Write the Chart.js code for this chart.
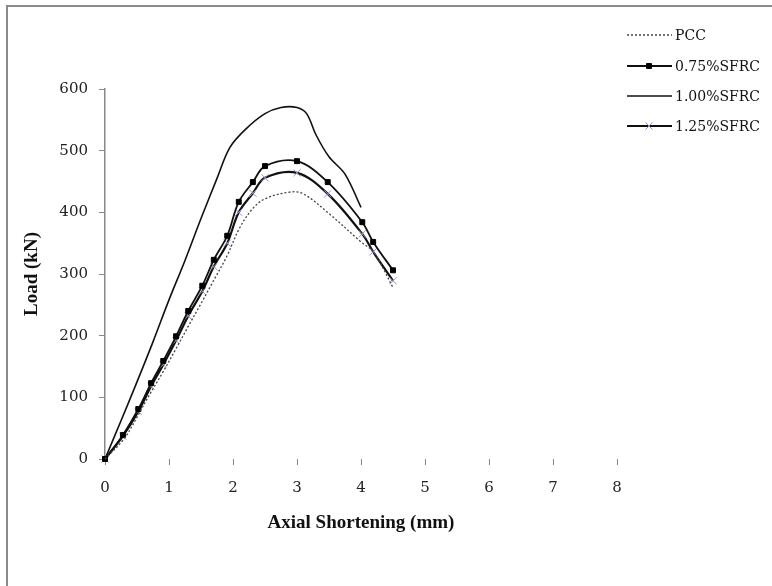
<!DOCTYPE html>
<html>
<head>
<meta charset="utf-8">
<script src="https://cdn.jsdelivr.net/npm/chart.js@4/dist/chart.umd.min.js"></script>
<style>
  html, body { margin: 0; padding: 0; background: #fff; }
</style>
</head>
<body>
<canvas id="chart" width="772" height="586"></canvas>
<script>
// Axis ticks
const xTicks = [0, 1, 2, 3, 4, 5, 6, 7, 8];
const yTicks = [0, 100, 200, 300, 400, 500, 600];

// Series (axial shortening mm, load kN)
const pccX = [0, 0.3, 0.5, 0.7, 0.9, 1.1, 1.3, 1.5, 1.7, 1.9, 2.1, 2.3, 2.5, 2.9, 3.1, 3.5, 4.0, 4.2, 4.5];
const pccY = [0, 33, 68, 105, 140, 177, 215, 252, 290, 328, 374, 405, 422, 433, 430, 398, 352, 335, 278];

const sfrc075X = [0, 0.28, 0.52, 0.72, 0.91, 1.11, 1.3, 1.52, 1.7, 1.91, 2.09, 2.31, 2.5, 3.0, 3.48, 4.02, 4.19, 4.5];
const sfrc075Y = [0, 39, 81, 123, 159, 199, 240, 281, 323, 362, 417, 449, 475, 483, 449, 384, 352, 306];

const sfrc100X = [0, 0.25, 0.5, 0.75, 1.0, 1.25, 1.5, 1.75, 1.95, 2.2, 2.5, 2.75, 3.0, 3.15, 3.3, 3.5, 3.75, 4.0];
const sfrc100Y = [0, 62, 125, 190, 258, 322, 390, 455, 505, 535, 560, 570, 570, 560, 525, 490, 462, 408];

const sfrc125X = [0, 0.28, 0.52, 0.72, 0.91, 1.11, 1.3, 1.52, 1.7, 1.91, 2.09, 2.31, 2.5, 3.0, 3.48, 4.02, 4.19, 4.5];
const sfrc125Y = [0, 37, 77, 118, 153, 192, 232, 272, 312, 350, 400, 431, 456, 464, 430, 365, 336, 289];

const labels = ["PCC", "0.75%SFRC", "1.00%SFRC", "1.25%SFRC"];

function pts(xs, ys) {
  return xs.map((x, i) => ({ x: x, y: ys[i] }));
}

// page frame lines
const framePlugin = {
  id: "frame",
  beforeDraw(chart) {
    const ctx = chart.ctx;
    ctx.save();
    ctx.fillStyle = "#fff";
    ctx.fillRect(0, 0, chart.width, chart.height);
    ctx.strokeStyle = "#8a8a8a";
    ctx.lineWidth = 2;
    ctx.beginPath();
    ctx.moveTo(7, 586);
    ctx.lineTo(7, 6);
    ctx.lineTo(772, 6);
    ctx.stroke();
    ctx.restore();
  }
};

// legend drawn on the right like the original
const legendPlugin = {
  id: "sideLegend",
  afterDraw(chart) {
    const ctx = chart.ctx;
    ctx.save();
    ctx.font = "14px 'DejaVu Serif'";
    ctx.textBaseline = "middle";
    const ys = [35, 66, 96, 126];
    chart.data.datasets.forEach((ds, i) => {
      const y = ys[i];
      ctx.strokeStyle = ds.borderColor;
      ctx.lineWidth = ds.borderWidth;
      ctx.setLineDash(ds.borderDash || []);
      ctx.beginPath();
      ctx.moveTo(627, y);
      ctx.lineTo(672, y);
      ctx.stroke();
      ctx.setLineDash([]);
      if (ds.pointRadius > 0) {
        ctx.strokeStyle = ds.pointBorderColor;
        ctx.fillStyle = ds.pointBackgroundColor;
        ctx.lineWidth = ds.pointBorderWidth;
        Chart.helpers.drawPoint(ctx, {
          pointStyle: ds.pointStyle,
          radius: ds.pointRadius,
          borderWidth: ds.pointBorderWidth,
          rotation: 0
        }, 649, y);
      }
      ctx.fillStyle = "#111";
      ctx.fillText(labels[i], 675, y + 1);
    });
    ctx.restore();
  }
};

const tickFont = { family: "'DejaVu Serif'", size: 15 };
const titleFont = { family: "'Liberation Serif'", size: 19, weight: "bold" };

new Chart(document.getElementById("chart"), {
  type: "line",
  data: {
    datasets: [
      {
        label: labels[0],
        data: pts(pccX, pccY),
        borderColor: "#444",
        borderWidth: 1.3,
        borderDash: [2, 2],
        pointRadius: 0
      },
      {
        label: labels[1],
        data: pts(sfrc075X, sfrc075Y),
        borderColor: "#111",
        borderWidth: 1.8,
        pointStyle: "rect",
        pointRadius: 3.5,
        pointBackgroundColor: "#000",
        pointBorderColor: "#000",
        pointBorderWidth: 1
      },
      {
        label: labels[2],
        data: pts(sfrc100X, sfrc100Y),
        borderColor: "#111",
        borderWidth: 1.6,
        pointRadius: 0
      },
      {
        label: labels[3],
        data: pts(sfrc125X, sfrc125Y),
        borderColor: "#111",
        borderWidth: 2.2,
        pointStyle: "crossRot",
        pointRadius: 5,
        pointBorderColor: "#9c8fc8",
        pointBackgroundColor: "#9c8fc8",
        pointBorderWidth: 1
      }
    ]
  },
  options: {
    responsive: false,
    animation: false,
    clip: false,
    elements: { line: { tension: 0.35 } },
    layout: { padding: { top: 89, right: 155, left: 0, bottom: 0 } },
    plugins: {
      legend: { display: false },
      tooltip: { enabled: false }
    },
    scales: {
      x: {
        type: "linear",
        min: xTicks[0],
        max: xTicks[xTicks.length - 1],
        afterFit: (s) => { s.height = 127; },
        afterBuildTicks: (s) => { s.ticks = xTicks.map(v => ({ value: v })); },
        border: { display: false },
        grid: { drawOnChartArea: false, tickLength: 6, color: "#888" },
        ticks: { font: tickFont, color: "#222", padding: 14 },
        title: { display: true, text: "Axial Shortening (mm)", font: titleFont, color: "#111", padding: { top: 0, bottom: 52 } }
      },
      y: {
        min: yTicks[0],
        max: yTicks[yTicks.length - 1],
        afterFit: (s) => { s.width = 105; },
        afterBuildTicks: (s) => { s.ticks = yTicks.map(v => ({ value: v })); },
        border: { display: true, color: "#888", width: 1.5 },
        grid: { drawOnChartArea: false, tickLength: 6, color: "#888" },
        ticks: { font: tickFont, color: "#222", padding: 11 },
        title: { display: true, text: "Load (kN)", font: titleFont, color: "#111", padding: { top: 21, bottom: 0 } }
      }
    }
  },
  plugins: [framePlugin, legendPlugin]
});
</script>
</body>
</html>
